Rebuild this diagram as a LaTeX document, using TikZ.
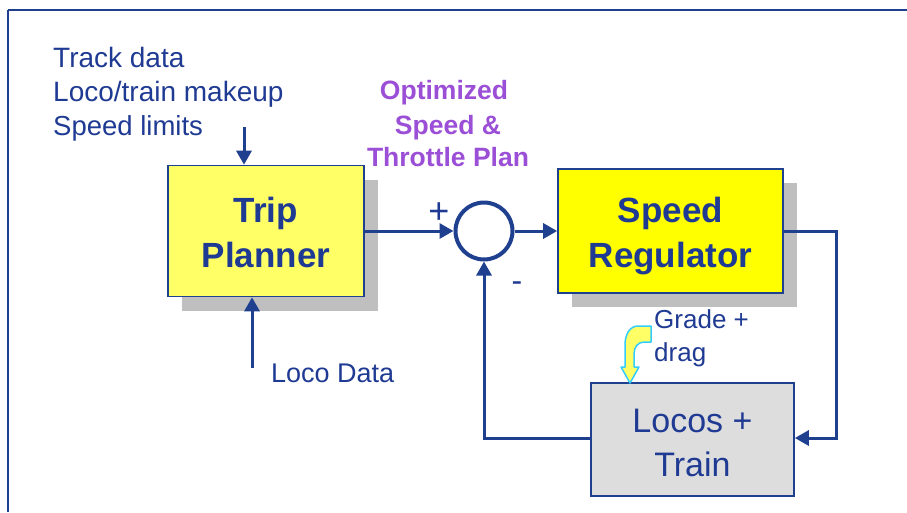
\documentclass[tikz,border=0pt]{standalone}
\usepackage{fontspec}
\setmainfont{Liberation Sans}
\usetikzlibrary{arrows.meta,shadows}
\definecolor{lineblue}{HTML}{1F3F8F}
\definecolor{textblue}{HTML}{1F3A93}
\definecolor{purp}{HTML}{9B4FD6}
\definecolor{lightyel}{HTML}{FFFF66}
\definecolor{brightyel}{HTML}{FFFF00}
\definecolor{shadowgrey}{HTML}{BFBFBF}
\definecolor{boxgrey}{HTML}{DDDDDD}
\definecolor{cyanline}{HTML}{33CCFF}
\tikzset{
  blockbox/.style={draw=lineblue, line width=1.6pt, text=textblue, align=center, inner sep=0pt},
  boldtxt/.style={font=\fontsize{35}{45}\selectfont\bfseries},
  shadowed/.style={general shadow={fill=shadowgrey, draw=none, shadow xshift=14pt, shadow yshift=-14pt}},
  conn/.style={draw=lineblue, line width=3pt, -{Triangle[length=14pt,width=15pt]}},
  lbl/.style={text=textblue, font=\fontsize{27}{34}\selectfont, inner sep=0pt},
  purplbl/.style={text=purp, font=\fontsize{26.5}{33}\selectfont\bfseries, inner sep=0pt, align=center},
  boxtext/.style={text=textblue, align=center, inner sep=0pt},
}
\begin{document}
\begin{tikzpicture}[x=1pt,y=-1pt]
\useasboundingbox (0,0) rectangle (907,512);
% frame
\draw[lineblue, line width=2.5pt] (907,10) -- (8,10);
\draw[lineblue, line width=1.5pt] (8,10) -- (8,512);

% blocks
\node[blockbox, shadowed, fill=lightyel, minimum width=196pt, minimum height=131pt,
  label={[boxtext, boldtxt, yshift=-1.5pt]center:{Trip\\Planner}}] (tp) at (266,231) {};
\node[blockbox, shadowed, fill=brightyel, minimum width=225pt, minimum height=124pt,
  label={[boxtext, boldtxt, yshift=-5pt]center:{Speed\\Regulator}}] (sr) at (670.5,231) {};
\node[blockbox, fill=boxgrey, minimum width=203pt, minimum height=113pt,
  label={[boxtext, font=\fontsize{34}{44}\selectfont, yshift=-3.5pt]center:{Locos +\\Train}}] (lt) at (692.5,439.5) {};
\node[circle, draw=lineblue, line width=4pt, minimum size=57pt, inner sep=0pt] (sum) at (484,231) {};

% texts
\node[lbl, anchor=base west, font=\fontsize{28}{34}\selectfont] (t1) at (53,67) {Track data};
\node[lbl, anchor=base west, font=\fontsize{28}{34}\selectfont] (t2) at (53,101) {Loco/train makeup};
\node[lbl, anchor=base west, font=\fontsize{27.5}{34}\selectfont] (t3) at (53,135) {Speed limits};
\node[lbl, anchor=base west] (ld) at (271,382) {Loco Data};
\node[lbl, anchor=base west, font=\fontsize{26}{33}\selectfont] (g1) at (654,328) {Grade +};
\node[lbl, anchor=base west, font=\fontsize{26}{33}\selectfont] (g2) at (654,361) {drag};
\node[purplbl, anchor=base] (p1) at (444,99) {Optimized};
\node[purplbl, anchor=base] (p2) at (448,134) {Speed \&};
\node[purplbl, anchor=base] (p3) at (448,166) {Throttle Plan};
\node[text=textblue, font=\fontsize{36}{40}\selectfont, inner sep=0pt] (plus) at (439,213) {+};
\node[text=textblue, font=\fontsize{32}{36}\selectfont, inner sep=0pt] (minus) at (517,287) {-};

% connectors
\coordinate (in1) at (244,127);
\coordinate (in2) at (252,368);
\coordinate (rc) at (836,231);
\draw[conn] (in1) -- (in1 |- tp.north);
\draw[conn] (in2) -- (in2 |- tp.south);
\draw[conn] (tp.east) -- (sum.west);
\draw[conn] (sum.east) -- (sr.west);
\draw[conn] (sr.east) -- (rc) |- ([yshift=1.5pt]lt.east);
\draw[conn] ([yshift=1.5pt]lt.west) -| (sum.south);

% yellow bent arrow
\draw[fill=lightyel, draw=cyanline, line width=1.5pt, line join=round]
  (651,326) -- (638,326) .. controls (630,326) and (625,334) .. (625,345)
  -- (625,367) -- (621,367) -- (630,383) -- (639,367) -- (634,367)
  -- (634,354) .. controls (634,347) and (638,342) .. (644,342)
  -- (651,342) -- cycle;
\end{tikzpicture}
\end{document}
